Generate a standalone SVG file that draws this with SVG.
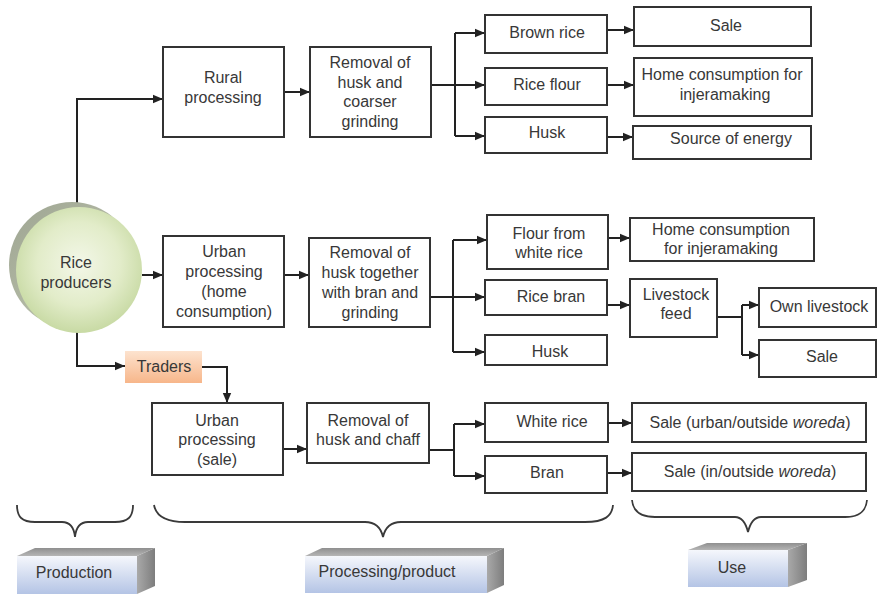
<svg xmlns="http://www.w3.org/2000/svg" width="878" height="596" viewBox="0 0 878 596">
  <defs>
    <marker id="arrow" markerUnits="userSpaceOnUse" markerWidth="10" markerHeight="10" viewBox="0 0 10 10" refX="10" refY="5" orient="auto">
      <path d="M0,0.8 L10,5 L0,9.2 z" fill="#222"/>
    </marker>
    <radialGradient id="greenBall" cx="0.5" cy="0.45" r="0.55">
      <stop offset="0" stop-color="#f3f7e8"/>
      <stop offset="0.6" stop-color="#e2ecc9"/>
      <stop offset="1" stop-color="#c8daa4"/>
    </radialGradient>
    <linearGradient id="ballSide" x1="0" y1="0" x2="1" y2="1">
      <stop offset="0" stop-color="#9ea592"/>
      <stop offset="1" stop-color="#c4cab4"/>
    </linearGradient>
    <linearGradient id="peach" x1="0" y1="0" x2="0" y2="1">
      <stop offset="0" stop-color="#fde3cf"/>
      <stop offset="1" stop-color="#f7b68a"/>
    </linearGradient>
    <linearGradient id="blockFront" x1="0" y1="0" x2="0" y2="1">
      <stop offset="0" stop-color="#f5f7fc"/>
      <stop offset="1" stop-color="#b4c4e5"/>
    </linearGradient>
    <linearGradient id="blockTop" x1="0" y1="0" x2="0" y2="1">
      <stop offset="0" stop-color="#8f8f8f"/>
      <stop offset="1" stop-color="#b5b5b5"/>
    </linearGradient>
    <linearGradient id="blockSide" x1="0" y1="0" x2="1" y2="0">
      <stop offset="0" stop-color="#a9a9a9"/>
      <stop offset="1" stop-color="#7d7d7d"/>
    </linearGradient>
  </defs>
  <style>
    .box { fill: #ffffff; stroke: #333333; stroke-width: 2; }
    .lbl { font-family: "Liberation Sans", Arial, sans-serif; font-size: 16px; fill: #383838; text-anchor: middle; }
    .conn { fill: none; stroke: #222222; stroke-width: 2; }
    .arr { marker-end: url(#arrow); }
    .brace { fill: none; stroke: #3a3a3a; stroke-width: 1.8; }
    .front { fill: url(#blockFront); }
    .top { fill: url(#blockTop); }
    .side { fill: url(#blockSide); }
  </style>

  <g id="connectors">
    <!-- producers to rural processing -->
    <path class="conn arr" d="M77,208 V99 H163"/>
    <path class="conn arr" d="M284,92 H310"/>
    <path class="conn arr" d="M431,85 H485"/>
    <path class="conn" d="M455,33 V136"/>
    <path class="conn arr" d="M455,33 H485"/>
    <path class="conn arr" d="M455,136 H485"/>
    <path class="conn arr" d="M607,30 H634"/>
    <path class="conn arr" d="M607,85 H634"/>
    <path class="conn arr" d="M607,137 H633"/>
    <!-- producers to urban processing (home consumption) -->
    <path class="conn arr" d="M142,275 H163"/>
    <path class="conn arr" d="M284,275 H309"/>
    <path class="conn arr" d="M430,297 H485"/>
    <path class="conn" d="M453,240 V352"/>
    <path class="conn arr" d="M453,240 H487"/>
    <path class="conn arr" d="M453,352 H485"/>
    <path class="conn arr" d="M608,238 H630"/>
    <path class="conn arr" d="M607,305 H630"/>
    <path class="conn" d="M717,317 H742"/>
    <path class="conn" d="M742,305 V355"/>
    <path class="conn arr" d="M742,305 H759"/>
    <path class="conn arr" d="M742,355 H759"/>
    <!-- producers via traders to urban processing (sale) -->
    <path class="conn arr" d="M77,332 V366 H125"/>
    <path class="conn arr" d="M202,367 H227 V403"/>
    <path class="conn arr" d="M283,449 H307"/>
    <path class="conn" d="M429,450 H454"/>
    <path class="conn" d="M454,424 V476"/>
    <path class="conn arr" d="M454,424 H485"/>
    <path class="conn arr" d="M454,476 H485"/>
    <path class="conn arr" d="M608,423 H632"/>
    <path class="conn arr" d="M607,473 H632"/>
  </g>

  <g id="rice-producers">
    <circle cx="72" cy="265" r="63" fill="url(#ballSide)"/>
    <circle cx="79" cy="270" r="63" fill="url(#greenBall)"/>
    <text class="lbl" x="76" y="268">Rice</text>
    <text class="lbl" x="76" y="288">producers</text>
  </g>

  <g id="rural-processing">
    <rect class="box" x="163" y="47" width="121" height="90"/>
    <text class="lbl" x="223" y="83">Rural</text>
    <text class="lbl" x="223" y="103">processing</text>
  </g>
  <g id="removal-coarse">
    <rect class="box" x="310" y="47" width="121" height="90"/>
    <text class="lbl" x="370" y="68">Removal of</text>
    <text class="lbl" x="370" y="88">husk and</text>
    <text class="lbl" x="370" y="107">coarser</text>
    <text class="lbl" x="370" y="127">grinding</text>
  </g>
  <g id="brown-rice">
    <rect class="box" x="485" y="15" width="122" height="38"/>
    <text class="lbl" x="547" y="38">Brown rice</text>
  </g>
  <g id="rice-flour">
    <rect class="box" x="485" y="68" width="122" height="37"/>
    <text class="lbl" x="547" y="90">Rice flour</text>
  </g>
  <g id="husk-rural">
    <rect class="box" x="485" y="117" width="122" height="36"/>
    <text class="lbl" x="547" y="138">Husk</text>
  </g>
  <g id="sale-brown">
    <rect class="box" x="634" y="7" width="177" height="39"/>
    <text class="lbl" x="726" y="31">Sale</text>
  </g>
  <g id="home-flour">
    <rect class="box" x="634" y="58" width="178" height="58"/>
    <text class="lbl" x="722" y="80">Home consumption for</text>
    <text class="lbl" x="725" y="100">injeramaking</text>
  </g>
  <g id="energy">
    <rect class="box" x="633" y="126" width="178" height="33"/>
    <text class="lbl" x="731" y="144">Source of energy</text>
  </g>

  <g id="urban-home">
    <rect class="box" x="163" y="236" width="121" height="91"/>
    <text class="lbl" x="224" y="257">Urban</text>
    <text class="lbl" x="224" y="277">processing</text>
    <text class="lbl" x="224" y="297">(home</text>
    <text class="lbl" x="224" y="317">consumption)</text>
  </g>
  <g id="removal-bran">
    <rect class="box" x="309" y="238" width="121" height="89"/>
    <text class="lbl" x="370" y="258">Removal of</text>
    <text class="lbl" x="370" y="278">husk together</text>
    <text class="lbl" x="370" y="298">with bran and</text>
    <text class="lbl" x="370" y="318">grinding</text>
  </g>
  <g id="white-flour">
    <rect class="box" x="487" y="215" width="121" height="54"/>
    <text class="lbl" x="549" y="239">Flour from</text>
    <text class="lbl" x="549" y="258">white rice</text>
  </g>
  <g id="rice-bran">
    <rect class="box" x="485" y="280" width="122" height="35"/>
    <text class="lbl" x="551" y="302">Rice bran</text>
  </g>
  <g id="husk-urban">
    <rect class="box" x="485" y="335" width="122" height="30"/>
    <text class="lbl" x="550" y="357">Husk</text>
  </g>
  <g id="home-white">
    <rect class="box" x="630" y="218" width="184" height="43"/>
    <text class="lbl" x="721" y="235">Home consumption</text>
    <text class="lbl" x="721" y="254">for injeramaking</text>
  </g>
  <g id="livestock-feed">
    <rect class="box" x="630" y="279" width="87" height="58"/>
    <text class="lbl" x="676" y="300">Livestock</text>
    <text class="lbl" x="676" y="319">feed</text>
  </g>
  <g id="own-livestock">
    <rect class="box" x="759" y="288" width="117" height="39"/>
    <text class="lbl" x="819" y="312">Own livestock</text>
  </g>
  <g id="sale-feed">
    <rect class="box" x="759" y="340" width="117" height="37"/>
    <text class="lbl" x="822" y="362">Sale</text>
  </g>

  <g id="traders">
    <rect x="125" y="351" width="77" height="32" fill="url(#peach)"/>
    <text class="lbl" x="164" y="372">Traders</text>
  </g>
  <g id="urban-sale">
    <rect class="box" x="152" y="403" width="131" height="72"/>
    <text class="lbl" x="217" y="426">Urban</text>
    <text class="lbl" x="217" y="445">processing</text>
    <text class="lbl" x="217" y="465">(sale)</text>
  </g>
  <g id="removal-chaff">
    <rect class="box" x="307" y="403" width="122" height="60"/>
    <text class="lbl" x="368" y="426">Removal of</text>
    <text class="lbl" x="368" y="445">husk and chaff</text>
  </g>
  <g id="white-rice">
    <rect class="box" x="485" y="403" width="123" height="39"/>
    <text class="lbl" x="552" y="427">White rice</text>
  </g>
  <g id="bran">
    <rect class="box" x="485" y="456" width="122" height="37"/>
    <text class="lbl" x="547" y="478">Bran</text>
  </g>
  <g id="sale-urban">
    <rect class="box" x="632" y="403" width="234" height="39"/>
    <text class="lbl" x="750" y="428">Sale (urban/outside <tspan font-style="italic">woreda</tspan>)</text>
  </g>
  <g id="sale-in-out">
    <rect class="box" x="632" y="453" width="234" height="38"/>
    <text class="lbl" x="750" y="477">Sale (in/outside <tspan font-style="italic">woreda</tspan>)</text>
  </g>

  <g id="stage-braces">
    <path class="brace" d="M17,505 C17,517 22,522 35,522 H62 C70,522 74,527 75,537 C76,527 80,522 88,522 H115 C128,522 133,517 133,505"/>
    <path class="brace" d="M154,505 C156,516 165,522 185,522 H365 C375,522 381,528 383,537 C385,528 391,522 401,522 H585 C605,522 612,516 613,505"/>
    <path class="brace" d="M632,500 C633,511 640,517 655,517 H735 C742,517 746,524 748,532 C750,524 754,517 761,517 H845 C860,517 866,511 867,500"/>
  </g>

  <g id="stage-production">
    <polygon class="top" points="17,556 35,548 155,548 137,556"/>
    <polygon class="side" points="137,556 155,548 155,586 137,594"/>
    <rect class="front" x="17" y="556" width="120" height="38"/>
    <text class="lbl" x="74" y="578">Production</text>
  </g>
  <g id="stage-processing">
    <polygon class="top" points="305,556 322,548 504,548 487,556"/>
    <polygon class="side" points="487,556 504,548 504,585 487,593"/>
    <rect class="front" x="305" y="556" width="182" height="37"/>
    <text class="lbl" x="387" y="577">Processing/product</text>
  </g>
  <g id="stage-use">
    <polygon class="top" points="688,550 707,543 807,543 788,550"/>
    <polygon class="side" points="788,550 807,543 807,580 788,587"/>
    <rect class="front" x="688" y="550" width="100" height="37"/>
    <text class="lbl" x="732" y="573">Use</text>
  </g>
</svg>
